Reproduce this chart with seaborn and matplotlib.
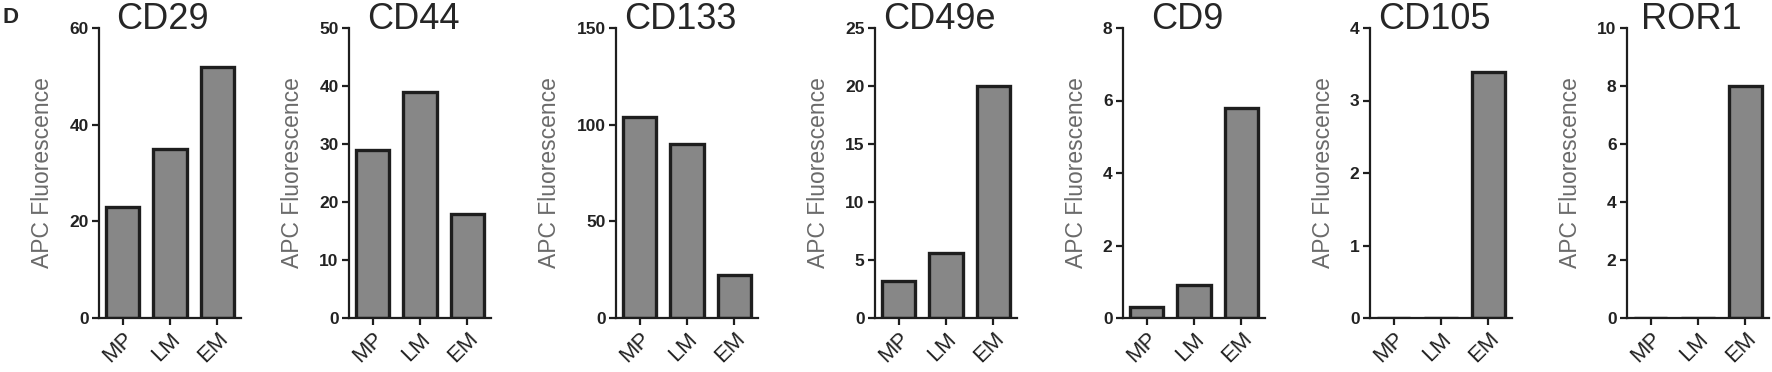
import pandas as pd
import matplotlib
matplotlib.use('Agg')
import matplotlib.pyplot as plt
import seaborn as sns

sns.set_style('white')
plt.rcParams['font.family'] = ['Liberation Sans', 'DejaVu Sans']

groups = ['MP', 'LM', 'EM']
markers = ['CD29', 'CD44', 'CD133', 'CD49e', 'CD9', 'CD105', 'ROR1']
cd29 = [23, 35, 52]
cd44 = [29, 39, 18]
cd133 = [104, 90, 22]
cd49e = [3.2, 5.6, 20]
cd9 = [0.3, 0.9, 5.8]
cd105 = [0, 0, 3.4]
ror1 = [0, 0, 8]
values = [cd29, cd44, cd133, cd49e, cd9, cd105, ror1]
ymax = [60, 50, 150, 25, 8, 4, 10]
ystep = [20, 10, 50, 5, 2, 1, 2]

# axes left edges in pixels (figure is 1772 x 372)
lefts = [99, 349, 616, 875, 1123, 1370, 1627]
W, H = 1772, 372

fig = plt.figure(figsize=(W / 100, H / 100), dpi=100)

for i, name in enumerate(markers):
    ax = fig.add_axes([lefts[i] / W, (H - 318) / H, 142 / W, 290 / H])
    df = pd.DataFrame({'group': groups, 'value': values[i]})
    sns.barplot(data=df, x='group', y='value', ax=ax, color='#878787',
                saturation=1, width=0.7, edgecolor='#1e1e1e', linewidth=2.4,
                errorbar=None)
    ax.set_xlim(-0.5, 2.5)
    ax.set_ylim(0, ymax[i])
    ticks = [ystep[i] * k for k in range(int(ymax[i] / ystep[i]) + 1)]
    ax.set_yticks(ticks)
    ax.set_yticklabels([str(t) for t in ticks], fontsize=12.5, fontweight='bold',
                       color='#222222')
    ax.set_xticks(range(3))
    ax.set_xticklabels(groups, rotation=45, ha='right', rotation_mode='anchor',
                       fontsize=16, color='#222222')
    ax.set_xlabel('')
    ax.set_ylabel('APC Fluorescence', fontsize=16.5, color='#6a6a6a', labelpad=11)
    ax.set_title(name, fontsize=26, pad=-1, x=0.45)
    sns.despine(ax=ax)
    for s in ['left', 'bottom']:
        ax.spines[s].set_linewidth(1.6)
        ax.spines[s].set_color('#1e1e1e')
    ax.tick_params(axis='both', length=5, width=1.6, color='#1e1e1e',
                   direction='out', left=True, bottom=True, pad=2.5)

fig.text(2 / W, 1 - 23 / H, 'D', fontsize=16, fontweight='bold', va='baseline')

fig.savefig('out.png', dpi=100)
